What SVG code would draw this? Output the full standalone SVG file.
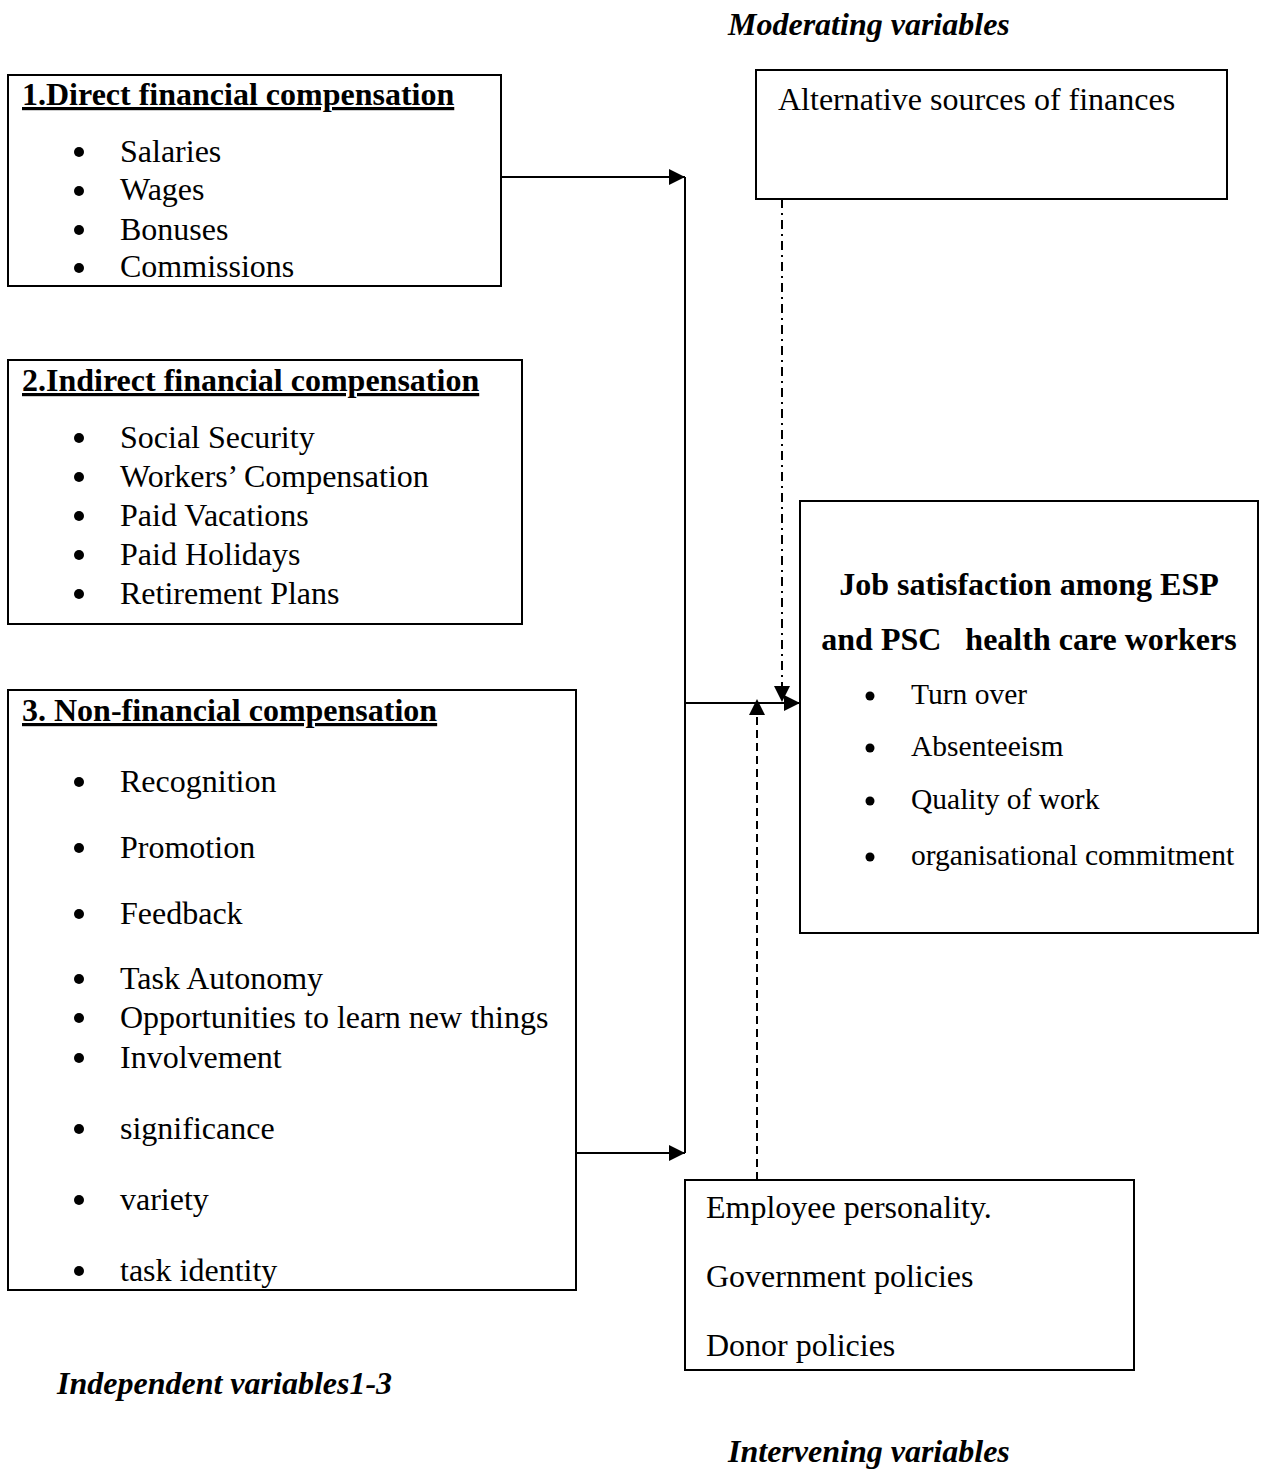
<svg xmlns="http://www.w3.org/2000/svg" width="1261" height="1470" viewBox="0 0 1261 1470">
<style>
text{font-family:"Liberation Serif","Times New Roman",serif;fill:#000}
.t{font-size:32px}
.h{font-size:32px;font-weight:bold;text-decoration:underline}
.j{font-size:32px;font-weight:bold}
.s{font-size:29.5px}
.lab{font-size:32px;font-weight:bold;font-style:italic}
.box{fill:#fff;stroke:#000;stroke-width:2}
.ln{stroke:#000;stroke-width:2;fill:none}
</style>
<defs>
<marker id="ah" viewBox="0 0 10 10" refX="10" refY="5" markerWidth="16" markerHeight="16" markerUnits="userSpaceOnUse" orient="auto"><path d="M0,0 L10,5 L0,10 z" fill="#000"/></marker>
</defs>
<rect width="1261" height="1470" fill="#fff"/>
<text class="lab" x="728" y="35">Moderating variables</text>
<text class="lab" x="57" y="1394">Independent variables1-3</text>
<text class="lab" x="728" y="1462">Intervening variables</text>

<g id="connectors">
<line class="ln" x1="501" y1="177" x2="685" y2="177" marker-end="url(#ah)"/>
<line class="ln" x1="685" y1="177" x2="685" y2="1153"/>
<line class="ln" x1="576" y1="1153" x2="685" y2="1153" marker-end="url(#ah)"/>
<line class="ln" x1="685" y1="703" x2="800" y2="703" marker-end="url(#ah)"/>
<line class="ln" x1="782" y1="199" x2="782" y2="702" stroke-dasharray="9,5,2,5" marker-end="url(#ah)"/>
<line class="ln" x1="757" y1="1180" x2="757" y2="699" stroke-dasharray="8,5" marker-end="url(#ah)"/>
</g>

<g id="direct">
<rect class="box" x="8" y="75" width="493" height="211"/>
<text class="h" x="22" y="105">1.Direct financial compensation</text>
<circle cx="79" cy="152" r="5"/><text class="t" x="120" y="162">Salaries</text>
<circle cx="79" cy="191" r="5"/><text class="t" x="120" y="200">Wages</text>
<circle cx="79" cy="230" r="5"/><text class="t" x="120" y="240">Bonuses</text>
<circle cx="79" cy="268" r="5"/><text class="t" x="120" y="277">Commissions</text>
</g>

<g id="indirect">
<rect class="box" x="8" y="360" width="514" height="264"/>
<text class="h" x="22" y="391">2.Indirect financial compensation</text>
<circle cx="79" cy="438" r="5"/><text class="t" x="120" y="448">Social Security</text>
<circle cx="79" cy="477" r="5"/><text class="t" x="120" y="487">Workers’ Compensation</text>
<circle cx="79" cy="516" r="5"/><text class="t" x="120" y="526">Paid Vacations</text>
<circle cx="79" cy="555" r="5"/><text class="t" x="120" y="565">Paid Holidays</text>
<circle cx="79" cy="594" r="5"/><text class="t" x="120" y="604">Retirement Plans</text>
</g>

<g id="nonfinancial">
<rect class="box" x="8" y="690" width="568" height="600"/>
<text class="h" x="22" y="721">3. Non-financial compensation</text>
<circle cx="79" cy="782" r="5"/><text class="t" x="120" y="792">Recognition</text>
<circle cx="79" cy="848" r="5"/><text class="t" x="120" y="858">Promotion</text>
<circle cx="79" cy="914" r="5"/><text class="t" x="120" y="924">Feedback</text>
<circle cx="79" cy="979" r="5"/><text class="t" x="120" y="989">Task Autonomy</text>
<circle cx="79" cy="1018" r="5"/><text class="t" x="120" y="1028">Opportunities to learn new things</text>
<circle cx="79" cy="1058" r="5"/><text class="t" x="120" y="1068">Involvement</text>
<circle cx="79" cy="1129" r="5"/><text class="t" x="120" y="1139">significance</text>
<circle cx="79" cy="1200" r="5"/><text class="t" x="120" y="1210">variety</text>
<circle cx="79" cy="1271" r="5"/><text class="t" x="120" y="1281">task identity</text>
</g>

<g id="moderating">
<rect class="box" x="756" y="70" width="471" height="129"/>
<text class="t" x="778" y="110">Alternative sources of finances</text>
</g>

<g id="jobsat">
<rect class="box" x="800" y="501" width="458" height="432"/>
<text class="j" x="1029" y="595" text-anchor="middle">Job satisfaction among ESP</text>
<text class="j" x="1029" y="650" text-anchor="middle" xml:space="preserve">and PSC   health care workers</text>
<circle cx="870" cy="696" r="4.5"/><text class="s" x="911" y="704">Turn over</text>
<circle cx="870" cy="748" r="4.5"/><text class="s" x="911" y="756">Absenteeism</text>
<circle cx="870" cy="801" r="4.5"/><text class="s" x="911" y="809">Quality of work</text>
<circle cx="870" cy="857" r="4.5"/><text class="s" x="911" y="865">organisational commitment</text>
</g>

<g id="intervening">
<rect class="box" x="685" y="1180" width="449" height="190"/>
<text class="t" x="706" y="1218">Employee personality.</text>
<text class="t" x="706" y="1287">Government policies</text>
<text class="t" x="706" y="1356">Donor policies</text>
</g>
</svg>
